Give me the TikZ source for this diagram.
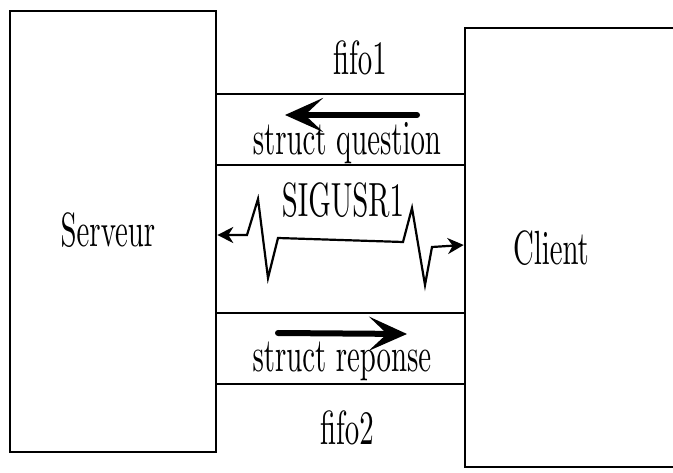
\documentclass[tikz,border=0pt]{standalone}
\usepackage{graphicx}
\usetikzlibrary{arrows.meta}
% tall, narrow lettering used for every label
\font\labelfont=cmr10 at 48pt
\newcommand\narrowtext[1]{\scalebox{0.6}[1]{\labelfont #1}}
\tikzset{
  process/.style={draw, line width=2.6pt, minimum width=#1, inner sep=0pt},
  pipewall/.style={line width=2.8pt},
  lbl/.style={anchor=base, inner sep=0pt},
  flow/.style={line width=6pt, line cap=round,
    -{Stealth[length=38pt,width=34pt,inset=18pt]}},
  signal/.style={line width=2.2pt, line join=miter,
    {Stealth[length=16pt,width=16pt,inset=5pt]}-{Stealth[length=16pt,width=16pt,inset=5pt]}}
}
\begin{document}
\begin{tikzpicture}[x=1pt,y=-1pt]
  \useasboundingbox (0,0) rectangle (673,473);
  \clip (0,0) rectangle (673,473);

  % the two processes
  \node[process=206pt, minimum height=441pt] (serveur) at (113,231.5) {};
  \node[process=225pt, minimum height=439pt] (client) at (577.5,247.5) {};
  \node[lbl] (serveurtxt) at (108,247) {\narrowtext{Serveur}};
  \node[lbl] (clienttxt) at (551,265) {\narrowtext{Client}};

  % fifo1 : client -> serveur
  \draw[pipewall] (serveur.east |- 0,94) -- (client.west |- 0,94);
  \draw[pipewall] (serveur.east |- 0,165) -- (client.west |- 0,165);
  \node[lbl] (fifoone) at (360,75) {\narrowtext{fifo1}};
  \coordinate (qstart) at (417,115);
  \coordinate (qend) at (285,115);
  \draw[flow] (qstart) -- (qend);
  \node[lbl] (question) at (347,155) {\narrowtext{struct question}};

  % fifo2 : serveur -> client
  \draw[pipewall] (serveur.east |- 0,313) -- (client.west |- 0,313);
  \draw[pipewall] (serveur.east |- 0,384) -- (client.west |- 0,384);
  \coordinate (rstart) at (278,333);
  \coordinate (rend) at (407,334);
  \draw[flow] (rstart) -- (rend);
  \node[lbl] (reponse) at (342,372) {\narrowtext{struct reponse}};
  \node[lbl] (fifotwo) at (347,445) {\narrowtext{fifo2}};

  % signal between the processes
  \coordinate (sigL) at (serveur.east |- 0,235);
  \coordinate (sigR) at (client.west |- 0,245);
  \draw[signal] (sigL) -- (247,235) -- (258,199) -- (268,278) -- (278,238)
    -- (403,242) -- (412,208) -- (425,285) -- (432,247) -- (sigR);
  \node[lbl] (sigusr) at (343,217) {\narrowtext{SIGUSR1}};
\end{tikzpicture}
\end{document}
